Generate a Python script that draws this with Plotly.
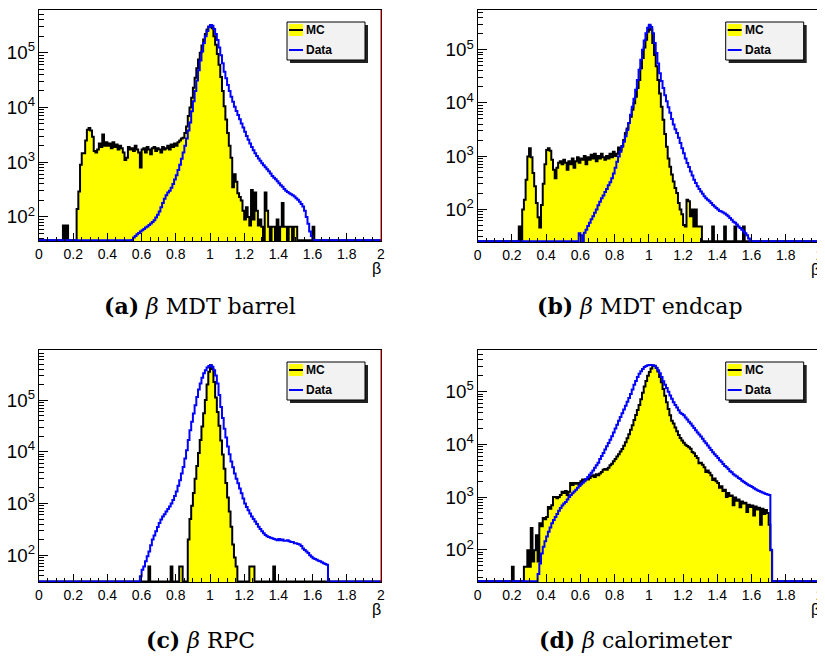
import numpy as np
import plotly.graph_objects as go

# ---------------- data (bin width 0.01 in beta, counts per bin) ----------------
BIN_WIDTH = 0.01
N_BINS = 200

# (a) MDT barrel
mc_a_start = 0.14
mc_a = [70, 0, 70, 0, 0, 0, 0, 0,
        140, 290, 900, 1450, 1450, 2500, 3900, 4200, 3800, 2900, 1600, 1500, 1700, 2200, 1900, 3200,
        2000, 2300, 2000, 2200, 1800, 2300, 1900, 2100, 1700, 2000, 1800, 1500, 1100, 1200, 1900, 1700,
        1800, 1600, 2000, 1700, 1500, 800, 1700, 1800, 1500, 1900, 1700, 1400, 1800, 1900, 1600, 1800,
        1700, 1500, 1900, 1700, 1800, 2000, 1700, 2100, 1900, 2200, 2000, 2300, 2500, 2700, 2800, 3400,
        4500,
        7000, 10000, 15000, 23000, 35000, 52000, 75000, 100000, 135000, 175000, 220000, 265000, 300000,
        320000,
        280000, 200000, 140000, 95000, 60000, 36000, 20000, 10500, 6000, 3400, 2000, 1200, 350, 600, 440,
        270, 230, 200, 130, 90, 150, 100, 70, 310, 90, 280, 130, 70, 90, 66, 0, 280, 130, 66, 0, 66, 66,
        0, 90, 0, 66, 180, 66, 66, 0, 66, 66, 0, 66, 66, 0, 0, 0, 0, 0, 0, 0, 0, 0, 66]
data_a_start = 0.54
data_a = [38, 42, 45, 48, 51, 54, 57, 60, 64, 67, 71, 76, 81, 87, 98, 110, 126, 150, 180, 215, 250, 280,
          300, 340, 400, 480, 580, 720, 900, 1150, 1500, 2000, 2700, 3800, 5300, 8500, 13000, 20000,
          31000, 48000, 72000, 105000, 150000, 200000, 250000, 295000, 320000,
          310000, 270000, 220000, 170000, 125000, 90000, 64000, 45000, 34000, 25700, 20000, 15700, 12700,
          10300, 8600, 7300, 6100, 5100, 4300, 3600, 3000, 2560, 2200, 1900, 1650, 1450, 1300, 1170, 1060,
          960, 880, 810, 740, 680, 620, 560, 520, 490, 450, 410, 380, 355, 325, 300, 285, 270, 260, 250,
          235, 220, 205, 190, 172, 155, 130, 100, 75, 54, 45, 38]

# (b) MDT endcap
mc_b_start = 0.24
mc_b = [47, 0, 98, 150, 355, 980, 1400, 950, 480, 270, 130, 70, 45, 120, 300, 700, 1300, 1400, 1250, 850,
        550, 380, 600, 750, 800, 700, 850, 750, 550, 800, 700, 900, 600, 800, 950, 750, 900, 850, 1000,
        700, 950, 850, 1050, 900, 1100, 800, 1000, 900, 1100, 950, 850, 1000, 900, 1100, 950, 1200, 1000,
        1100, 1450, 1300, 1550, 2000, 2700, 3300, 4200, 5500, 7400, 9800, 13000, 19000, 27000, 45000,
        70000, 110000, 155000, 220000, 285000, 240000, 134000, 80000, 49000, 27000, 15000, 8500, 4800,
        2600, 1500, 900, 630, 450, 330, 250, 200, 130, 98, 80, 50, 47, 150, 140, 73, 98, 47, 98, 47, 47,
        47, 0, 0, 0, 0, 0, 0, 47, 0, 0, 0, 0, 0, 0, 47, 0, 0, 0, 0, 0, 47, 0, 0, 0, 0, 47]
data_b_start = 0.59
data_b = [35, 32, 0, 36, 41, 48, 55, 64, 73, 85, 98, 118, 138, 160, 180, 210, 240, 280, 320, 380, 470,
          600, 780, 980, 1200, 1500, 1850, 2350, 3100, 4200, 6000, 8500, 12000, 17700, 27000, 42000,
          65000, 100000, 150000, 205000, 260000, 295000, 270000, 205000, 135000, 87000, 55000, 36000,
          26000, 19000, 14000, 10700, 8300, 6500, 5000, 3900, 3200, 2700, 2200, 1750, 1400, 1130, 900,
          740, 620, 510, 430, 355, 310, 270, 240, 215, 195, 174, 160, 150, 140, 130, 120, 112, 105, 98,
          92, 90, 86, 83, 78, 73, 68, 63, 58, 55, 51, 47, 44, 41, 38, 35, 32, 28]

# (c) RPC
mc_c_start = 0.64
mc_c = [60, 0, 0, 0, 0, 0, 0, 0, 0, 0, 0, 0, 0, 60, 0, 0, 0, 0, 60, 60, 0, 0, 0, 200, 500, 900, 1600,
        3000, 5300, 9500, 17000, 31000, 56000, 100000, 200000, 355000, 475000, 400000, 224000, 112000,
        59000, 32000, 16600, 8900, 4700, 2500, 1300, 700, 355, 160, 90, 60, 0, 0, 0, 0, 0, 0, 0, 60, 60,
        60, 0, 0, 0, 0, 0, 0, 0, 0, 0, 0, 0, 60]
data_c_start = 0.59
data_c = [39, 52, 60, 76, 95, 118, 155, 200, 240, 290, 350, 420, 490, 560, 620, 700, 780, 870, 1000, 1170,
          1400, 1700, 2200, 2800, 3800, 5100, 7400, 10700, 17000, 26000, 38000, 55000, 80000, 115000,
          160000, 210000, 270000, 330000, 380000, 430000, 460000, 475000, 440000, 380000, 300000, 210000,
          125000, 74000, 45000, 28000, 19000, 12600, 9000, 6500, 5000, 3800, 3000, 2450, 1950, 1580, 1250,
          1000, 850, 740, 640, 560, 500, 450, 400, 355, 320, 290, 265, 245, 232, 224, 218, 213, 205, 200,
          195, 205, 195, 200, 190, 190, 195, 185, 180, 180, 170, 170, 165, 160, 150, 135, 125, 118, 110,
          100, 93, 87, 84, 81, 78, 76, 73, 70, 67, 65]

# (d) calorimeter
mc_d_start = 0.20
mc_d = [48, 0, 0, 0, 0, 0, 0, 48, 48, 98, 48, 260, 60, 98, 190, 60, 320, 280, 400, 380, 420, 650, 600, 700,
        1000, 1000, 950, 1000, 1100, 1260, 1200, 1300, 1100, 1260, 1850, 1700, 1850, 1800, 1850, 1700,
        2000, 2150, 2100, 2200, 2150, 2300, 2500, 2600, 2400, 2700, 2600, 2800, 3000, 3300, 3400, 3300,
        3600, 4000, 4300, 4800, 5300, 5900, 6500, 7300, 8200, 9400, 11000, 13000, 15500, 19000, 23000,
        29000, 36000, 45000, 56000, 72000, 95000, 125000, 160000, 200000, 235000, 275000,
        308000, 310000, 282000, 240000, 190000, 150000, 112000, 84000, 63000, 47000, 35500, 28000, 25000,
        21000, 17800, 15000, 13200, 11800, 10700, 9800, 9300, 8800, 8300, 7200, 6800, 6000, 5500, 4400,
        4500, 4100, 3700, 3000, 3200, 2900, 2600, 2100, 2250, 2000, 1860, 1500, 1600, 1300, 1380, 1000,
        1200, 1050, 1070, 700, 980, 850, 900, 640, 830, 760, 780, 520, 720, 650, 690, 450, 660, 580, 630,
        300, 600, 480, 570, 500, 300, 98]
data_d_start = 0.35
data_d = [35, 55, 85, 115, 145, 180, 220, 265, 320, 370, 420, 480, 550, 620, 690, 760, 810, 900, 1000, 1100,
          1180, 1280, 1380, 1500, 1620, 1750, 1880, 2000, 2200, 2400, 2650, 2900, 3200, 3600, 4000, 4500,
          5300, 6000, 6900, 8000, 9200, 10600, 12300, 14300, 16800, 20000, 23500, 28000, 33000, 39000,
          46000, 54000, 64000, 76000, 90000, 110000, 135000, 160000, 190000, 218000, 245000, 270000,
          292000, 308000, 318000, 320000,
          322000, 318000, 305000, 285000, 255000, 224000, 190000, 158000, 135000, 117000, 100000, 85000,
          73000, 63000, 56000, 50000, 44500, 40000, 37500, 35500, 32500, 29500, 27000, 25000, 22500,
          20400, 18600, 16800, 15400, 14100, 12800, 11500, 10500, 9500, 8600, 7800, 7100, 6500, 6000,
          5500, 5000, 4700, 4250, 3900, 3700, 3400, 3100, 2950, 2700, 2570, 2450, 2300, 2200, 2050, 1950,
          1860, 1750, 1680, 1620, 1550, 1480, 1410, 1350, 1300, 1260, 1220, 1190, 1150, 1120, 1100, 100]

panel_labels = ["a", "b", "c", "d"]
captions = ["MDT barrel", "MDT endcap", "RPC", "calorimeter"]
x_tick_vals = [0, 0.2, 0.4, 0.6, 0.8, 1, 1.2, 1.4, 1.6, 1.8, 2]
x_tick_text = ["0", "0.2", "0.4", "0.6", "0.8", "1", "1.2", "1.4", "1.6", "1.8", "2"]

# ---------------- layout geometry (page pixels) ----------------
PAGE_W, PAGE_H = 825, 666
BODY_MARGIN = 8          # default HTML body margin offsets the figure on the page
W, H = PAGE_W - BODY_MARGIN, PAGE_H - BODY_MARGIN
panels = [
    dict(mc=(mc_a_start, mc_a), data=(data_a_start, data_a), x0=39, x1=381, y0=10, y1=241,
         yr=(1.56, 5.78), cap=(200, 306), red=True),
    dict(mc=(mc_b_start, mc_b), data=(data_b_start, data_b), x0=477.7, x1=820, y0=10, y1=242,
         yr=(1.38, 5.75), cap=(640, 306), red=False),
    dict(mc=(mc_c_start, mc_c), data=(data_c_start, data_c), x0=39, x1=381, y0=350, y1=582,
         yr=(1.48, 5.97), cap=(200, 640), red=True),
    dict(mc=(mc_d_start, mc_d), data=(data_d_start, data_d), x0=477.7, x1=820, y0=350, y1=582,
         yr=(1.39, 5.79), cap=(635, 640), red=False),
]


def px(x):
    return (x - BODY_MARGIN) / W


def py(y):
    return 1 - (y - BODY_MARGIN) / H


edges = np.round(np.arange(N_BINS + 1) * BIN_WIDTH, 4)


def step_arrays(start, vals, floor):
    y = np.zeros(N_BINS)
    i0 = int(round(start / BIN_WIDTH))
    v = np.asarray(vals, dtype=float)
    y[i0:i0 + len(v)] = v
    y = np.where(y > 0, y, floor)
    return edges, np.append(y, y[-1])


fig = go.Figure()
shapes = []
annotations = []
font_sans = "Liberation Sans, Arial, sans-serif"
font_serif = "DejaVu Serif, serif"

for k, p in enumerate(panels):
    xa = "xaxis" if k == 0 else f"xaxis{k+1}"
    ya = "yaxis" if k == 0 else f"yaxis{k+1}"
    xr = "x" if k == 0 else f"x{k+1}"
    yr = "y" if k == 0 else f"y{k+1}"
    floor = 10 ** (p["yr"][0] + 0.012)

    xm, ymc = step_arrays(p["mc"][0], p["mc"][1], floor)
    fig.add_trace(go.Scatter(x=xm, y=ymc, mode="lines", line=dict(color="black", width=2, shape="hv"),
                             fill="tozeroy", fillcolor="#ffff00", xaxis=xr, yaxis=yr,
                             showlegend=False, hoverinfo="skip"))
    xd, ydt = step_arrays(p["data"][0], p["data"][1], floor)
    fig.add_trace(go.Scatter(x=xd, y=ydt, mode="lines", line=dict(color="#0000ff", width=2, shape="hv"),
                             xaxis=xr, yaxis=yr, showlegend=False, hoverinfo="skip"))

    fig.layout[xa] = dict(domain=[px(p["x0"]), px(p["x1"])], range=[0, 2], anchor=yr, automargin=False,
                          showgrid=False, zeroline=False, showline=True, linecolor="black", linewidth=1,
                          mirror=True, ticks="inside", ticklen=8, tickcolor="black",
                          tickvals=x_tick_vals, ticktext=x_tick_text, ticklabeloverflow="allow",
                          minor=dict(ticks="inside", ticklen=4, dtick=0.05, tickcolor="black",
                                     showgrid=False),
                          tickfont=dict(family=font_sans, size=14, color="black"))
    fig.layout[ya] = dict(domain=[py(p["y1"]), py(p["y0"])], type="log", range=list(p["yr"]),
                          anchor=xr, automargin=False, showgrid=False, zeroline=False, showline=True,
                          linecolor="black", linewidth=1, mirror=True, ticks="inside", ticklen=9,
                          tickcolor="black", dtick=1, exponentformat="power", ticklabeloverflow="allow",
                          minor=dict(ticks="inside", ticklen=5, dtick="D1", tickcolor="black",
                                     showgrid=False),
                          tickfont=dict(family=font_sans, size=15, color="black"))

    if p["red"]:
        shapes.append(dict(type="line", xref="paper", yref="paper", x0=px(p["x1"]), x1=px(p["x1"]),
                           y0=py(p["y1"]), y1=py(p["y0"]), line=dict(color="#c00000", width=1)))

    # legend box (drawn manually, one per panel)
    lx0, lx1 = p["x0"] + 248, p["x0"] + 326
    ly0, ly1 = p["y0"] + 12, p["y0"] + 50
    shapes.append(dict(type="rect", xref="paper", yref="paper", x0=px(lx0 + 3), x1=px(lx1 + 3),
                       y0=py(ly1 + 3), y1=py(ly0 + 3), line=dict(width=0), fillcolor="#222222"))
    shapes.append(dict(type="rect", xref="paper", yref="paper", x0=px(lx0), x1=px(lx1),
                       y0=py(ly1), y1=py(ly0), line=dict(color="black", width=1), fillcolor="#f2f2f2"))
    shapes.append(dict(type="rect", xref="paper", yref="paper", x0=px(lx0 + 2), x1=px(lx0 + 16),
                       y0=py(ly0 + 14), y1=py(ly0 + 2), line=dict(width=0), fillcolor="#ffff00"))
    shapes.append(dict(type="line", xref="paper", yref="paper", x0=px(lx0 + 2), x1=px(lx0 + 16),
                       y0=py(ly0 + 8), y1=py(ly0 + 8), line=dict(color="black", width=2)))
    shapes.append(dict(type="line", xref="paper", yref="paper", x0=px(lx0 + 2), x1=px(lx0 + 16),
                       y0=py(ly0 + 28), y1=py(ly0 + 28), line=dict(color="#0000ff", width=2)))
    annotations.append(dict(text="<b>MC</b>", xref="paper", yref="paper", x=px(lx0 + 17), y=py(ly0 + 8),
                            xanchor="left", yanchor="middle", showarrow=False,
                            font=dict(family=font_sans, size=12, color="black")))
    annotations.append(dict(text="<b>Data</b>", xref="paper", yref="paper", x=px(lx0 + 17),
                            y=py(ly0 + 28), xanchor="left", yanchor="middle", showarrow=False,
                            font=dict(family=font_sans, size=12, color="black")))
    # axis title beta
    annotations.append(dict(text="β", xref="paper", yref="paper", x=px(p["x1"] - 5), y=py(p["y1"] + 27),
                            xanchor="center", yanchor="middle", showarrow=False,
                            font=dict(family=font_sans, size=16, color="black")))
    # caption
    annotations.append(dict(text=f"<b>({panel_labels[k]})</b> <i>β</i> {captions[k]}", xref="paper",
                            yref="paper", x=px(p["cap"][0]), y=py(p["cap"][1]), xanchor="center",
                            yanchor="middle", showarrow=False,
                            font=dict(family=font_serif, size=22, color="black")))

fig.update_layout(width=W, height=H, margin=dict(l=0, r=0, t=0, b=0), plot_bgcolor="white",
                  paper_bgcolor="white", shapes=shapes, annotations=annotations)
fig.write_html("out.html")
